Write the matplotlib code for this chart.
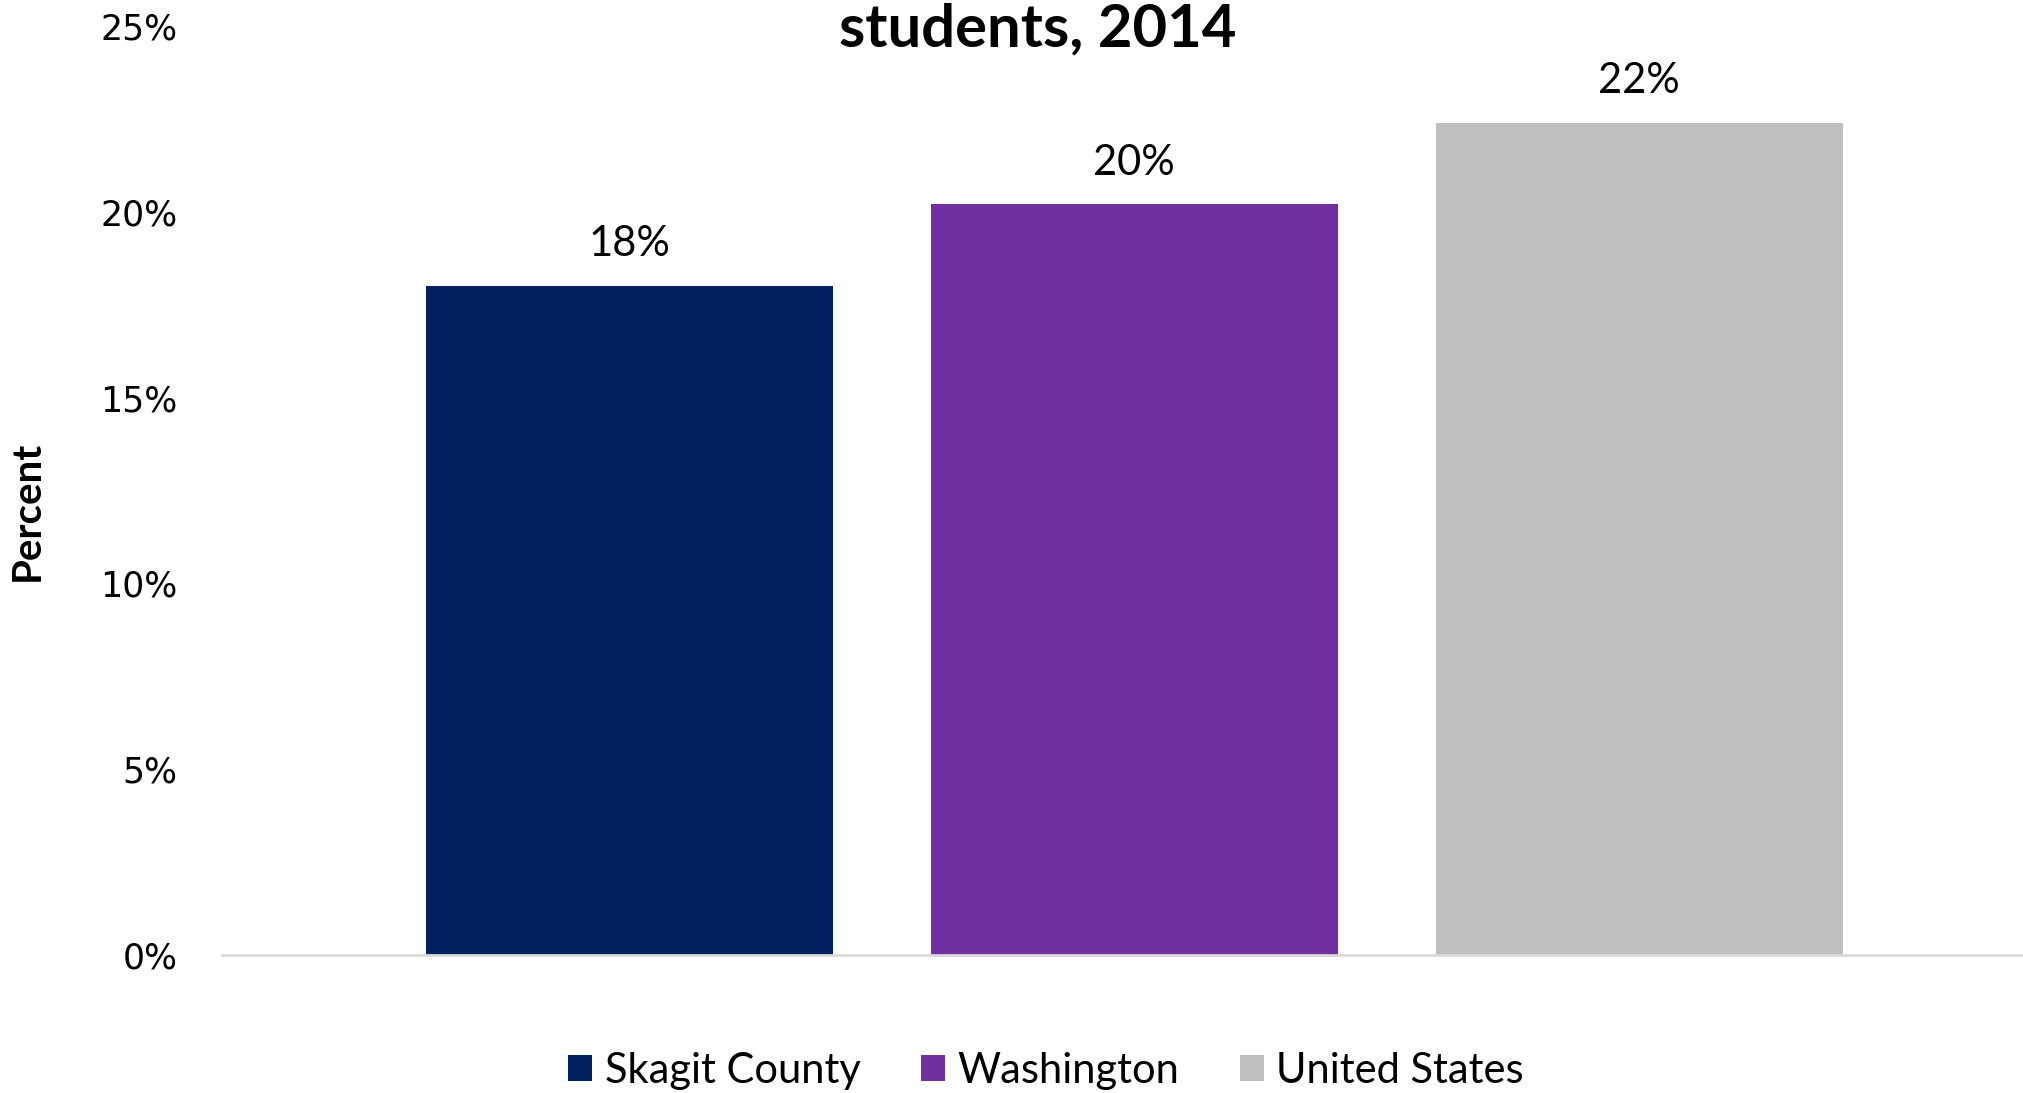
import matplotlib
matplotlib.use('Agg')
import matplotlib.pyplot as plt
from matplotlib.ticker import FuncFormatter

# данные
regions = ['Skagit County', 'Washington', 'United States']
values = [18.0, 20.2, 22.4]
labels = ['18%', '20%', '22%']
colors = ['#002060', '#7030A0', '#BFBFBF']
yticks = [0, 5, 10, 15, 20, 25]

fig = plt.figure(figsize=(20.24, 10.93), dpi=100)
ax = fig.add_axes([222 / 2024, 1 - 955 / 1093, 1 - 222 / 2024, 0.8499])

# столбцы
x = list(range(len(regions)))
bars = ax.bar(x, values, width=0.806, color=colors, label=regions)

# подписи над столбцами
for bar, lab in zip(bars, labels):
    ax.annotate(lab, (bar.get_x() + bar.get_width() / 2, bar.get_height()),
                xytext=(0, 30), textcoords='offset points',
                ha='center', va='center', fontsize=30, family='Lato')

ax.set_xlim(-0.806, 2.762)
ax.set_ylim(0, 25)
ax.set_yticks(yticks)
ax.yaxis.set_major_formatter(FuncFormatter(lambda v, p: '%d%%' % v))
ax.tick_params(axis='y', length=0, pad=32, labelsize=25)
ax.set_xticks([])

for s in ['top', 'right', 'left']:
    ax.spines[s].set_visible(False)
ax.spines['bottom'].set_color('#D9D9D9')
ax.spines['bottom'].set_linewidth(2)

ax.set_ylabel('Percent', fontsize=29, family='Lato', fontweight='bold')
ax.yaxis.set_label_coords(-0.0977, 0.478)

# заголовок (видна только нижняя строка)
fig.text(1038 / 2024, 1 - 46 / 1093, 'students, 2014', ha='center', va='baseline',
         fontsize=43, family='Lato', fontweight='bold')

fig.legend(handles=list(bars), labels=regions, loc='center', ncol=3,
           bbox_to_anchor=(1046 / 2024, 1 - 1071 / 1093), frameon=False,
           prop={'family': 'Lato', 'size': 30},
           handlelength=0.59, handleheight=0.59, handletextpad=0.29,
           columnspacing=1.45)

fig.savefig('out.png', dpi=100)
